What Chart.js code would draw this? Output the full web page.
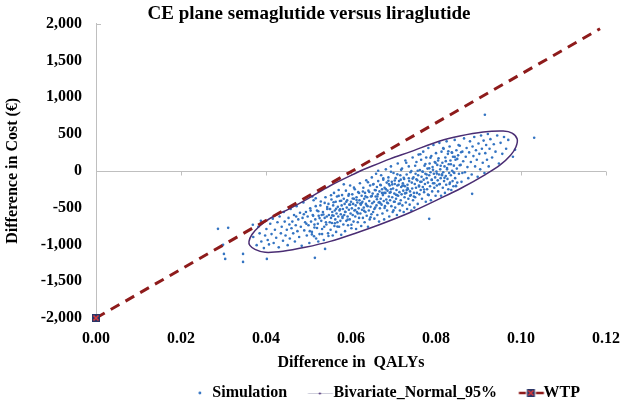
<!DOCTYPE html>
<html>
<head>
<meta charset="utf-8">
<script src="https://cdn.jsdelivr.net/npm/chart.js@4.4.1/dist/chart.umd.min.js"></script>
<style>
  body { margin: 0; background: #fff; }
  canvas { display: block; }
</style>
</head>
<body>
<canvas id="cePlane" width="624" height="404"></canvas>
<script>
const qalyTicks = [0, 0.02, 0.04, 0.06, 0.08, 0.10, 0.12];
const costTicks = [-2000, -1500, -1000, -500, 0, 500, 1000, 1500, 2000];
const seriesNames = ['Simulation', 'Bivariate_Normal_95%', 'WTP'];

// simulated (QALY, cost) pairs, read off the cloud
const simulation = [
  // stragglers left / below the ellipse
  [0.0287,-789],[0.0311,-775],[0.0299,-1006],[0.0301,-1129],[0.0304,-1197],[0.0346,-1129],[0.0346,-1238],
  [0.0402,-1197],[0.0369,-734],[0.0388,-680],[0.0515,-1183],[0.0539,-1061],[0.0784,-653],[0.0885,-313],
  [0.0915,762],[0.1031,449],[0.0981,190],[0.0986,286],
  // left tail
  [0.0370,-900],[0.0378,-1010],[0.0382,-760],[0.0385,-850],[0.0389,-960],[0.0392,-700],[0.0395,-1050],
  [0.0398,-880],[0.0401,-790],[0.0404,-940],[0.0407,-1000],[0.0410,-720],[0.0413,-860],[0.0416,-650],
  [0.0418,-980],[0.0421,-800],[0.0424,-910],[0.0427,-700],[0.0430,-1040],[0.0432,-620],[0.0435,-850],
  [0.0437,-760],[0.0440,-950],[0.0442,-560],[0.0444,-690],[0.0446,-880],[0.0449,-800],[0.0451,-1010],
  [0.0453,-640],[0.0455,-730],
  // 0.045 - 0.055
  [0.0456,-920],[0.0458,-520],[0.0460,-780],[0.0462,-690],[0.0464,-850],[0.0466,-600],[0.0468,-960],
  [0.0470,-740],[0.0472,-480],[0.0474,-820],[0.0476,-660],[0.0478,-900],[0.0480,-570],[0.0482,-760],
  [0.0484,-1020],[0.0486,-640],[0.0488,-430],[0.0490,-810],[0.0492,-700],[0.0494,-560],[0.0496,-880],
  [0.0498,-620],[0.0500,-740],[0.0502,-980],[0.0504,-510],[0.0506,-690],[0.0508,-830],[0.0510,-600],
  [0.0512,-400],[0.0514,-770],[0.0516,-660],[0.0518,-920],[0.0520,-540],[0.0522,-720],[0.0524,-610],
  [0.0526,-860],[0.0528,-470],[0.0530,-680],[0.0532,-790],[0.0534,-560],[0.0536,-940],[0.0538,-640],
  [0.0540,-360],[0.0542,-730],[0.0544,-520],[0.0546,-850],[0.0548,-600],[0.0550,-700],
  [0.0471,-620],[0.0489,-590],[0.0503,-820],[0.0517,-480],[0.0531,-600],[0.0547,-450],[0.0523,-960],
  [0.0509,-350],[0.0495,-720],[0.0537,-760],[0.0513,-890],[0.0543,-620],
  // 0.055 - 0.065
  [0.0551,-520],[0.0552,-800],[0.0553,-640],[0.0554,-390],[0.0555,-710],[0.0556,-560],[0.0557,-880],
  [0.0558,-470],[0.0559,-610],[0.0560,-300],[0.0561,-750],[0.0562,-540],[0.0563,-660],[0.0564,-420],
  [0.0565,-830],[0.0566,-580],[0.0567,-350],[0.0568,-700],[0.0569,-490],[0.0570,-620],[0.0571,-260],
  [0.0572,-760],[0.0573,-540],[0.0574,-410],[0.0575,-680],[0.0576,-590],[0.0577,-870],[0.0578,-470],
  [0.0579,-330],[0.0580,-640],[0.0581,-520],[0.0582,-730],[0.0583,-380],[0.0584,-600],[0.0585,-450],
  [0.0586,-820],[0.0587,-560],[0.0588,-270],[0.0589,-680],[0.0590,-500],[0.0591,-400],[0.0592,-620],
  [0.0593,-740],[0.0594,-340],[0.0595,-530],[0.0596,-460],[0.0597,-660],[0.0598,-200],[0.0599,-580],
  [0.0600,-420],[0.0601,-780],[0.0602,-510],[0.0603,-320],[0.0604,-600],[0.0605,-450],[0.0606,-690],
  [0.0607,-380],[0.0608,-540],[0.0609,-250],[0.0610,-620],[0.0611,-470],[0.0612,-790],[0.0613,-360],
  [0.0614,-560],[0.0615,-430],[0.0616,-700],[0.0617,-290],[0.0618,-510],[0.0619,-640],[0.0620,-400],
  [0.0621,-170],[0.0622,-580],[0.0623,-460],[0.0624,-750],[0.0625,-340],[0.0626,-530],[0.0627,-420],
  [0.0628,-640],[0.0629,-230],[0.0630,-500],[0.0631,-380],[0.0632,-700],[0.0633,-300],[0.0634,-560],
  [0.0635,-450],[0.0636,-130],[0.0637,-610],[0.0638,-360],[0.0639,-480],[0.0640,-760],[0.0641,-270],
  [0.0642,-540],[0.0643,-410],[0.0644,-660],[0.0645,-200],[0.0646,-490],[0.0647,-350],[0.0648,-590],
  [0.0649,-90],[0.0650,-440],
  // 0.065 - 0.075
  [0.0651,-310],[0.0652,-560],[0.0653,-180],[0.0654,-420],[0.0655,-650],[0.0656,-260],[0.0657,-500],
  [0.0658,-350],[0.0659,-40],[0.0660,-470],[0.0661,-220],[0.0662,-600],[0.0663,-320],[0.0664,-140],
  [0.0665,-430],[0.0666,-690],[0.0667,-280],[0.0668,-510],[0.0669,-190],[0.0670,-380],[0.0671,-60],
  [0.0672,-460],[0.0673,-250],[0.0674,-580],[0.0675,-330],[0.0676,-120],[0.0677,-410],[0.0678,-660],
  [0.0679,-230],[0.0680,-480],[0.0681,-300],[0.0682,20],[0.0683,-390],[0.0684,-160],[0.0685,-540],
  [0.0686,-270],[0.0687,-440],[0.0688,-90],[0.0689,-350],[0.0690,-620],[0.0691,-200],[0.0692,-400],
  [0.0693,-290],[0.0694,60],[0.0695,-480],[0.0696,-150],[0.0697,-360],[0.0698,-560],[0.0699,-240],
  [0.0700,-30],[0.0701,-420],[0.0702,-310],[0.0703,-180],[0.0704,-500],[0.0705,-100],[0.0706,-380],
  [0.0707,-260],[0.0708,-600],[0.0709,-200],[0.0710,100],[0.0711,-340],[0.0712,-450],[0.0713,-140],
  [0.0714,-290],[0.0715,-540],[0.0716,-60],[0.0717,-400],[0.0718,-220],[0.0719,-320],[0.0720,30],
  [0.0721,-470],[0.0722,-170],[0.0723,-270],[0.0724,-560],[0.0725,-110],[0.0726,-360],[0.0727,-210],
  [0.0728,140],[0.0729,-430],[0.0730,-300],[0.0731,-50],[0.0732,-520],[0.0733,-190],[0.0734,-250],
  [0.0735,-380],[0.0736,60],[0.0737,-140],[0.0738,-460],[0.0739,-280],[0.0740,-20],[0.0741,-330],
  [0.0742,-540],[0.0743,-160],[0.0744,-240],[0.0745,180],[0.0746,-400],[0.0747,-90],[0.0748,-300],
  [0.0749,-500],[0.0750,-180],
  [0.0662,-350],[0.0678,-300],[0.0694,-250],[0.0708,-330],[0.0724,-200],[0.0689,-180],[0.0703,-420],
  [0.0717,-120],[0.0731,-260],[0.0669,-440],
  // 0.075 - 0.085
  [0.0751,-360],[0.0752,-40],[0.0753,-230],[0.0754,120],[0.0755,-300],[0.0756,-130],[0.0757,-450],
  [0.0758,-60],[0.0759,220],[0.0760,-200],[0.0761,-320],[0.0762,10],[0.0763,-150],[0.0764,-260],
  [0.0765,150],[0.0766,-80],[0.0767,-380],[0.0768,-10],[0.0769,-220],[0.0770,260],[0.0771,-120],
  [0.0772,-290],[0.0773,70],[0.0774,-180],[0.0775,-40],[0.0776,-420],[0.0777,180],[0.0778,-100],
  [0.0779,-250],[0.0780,30],[0.0781,-160],[0.0782,310],[0.0783,-330],[0.0784,-60],[0.0785,100],
  [0.0786,-210],[0.0787,-20],[0.0788,-400],[0.0789,200],[0.0790,-120],[0.0791,-280],[0.0792,50],
  [0.0793,-170],[0.0794,350],[0.0795,-40],[0.0796,-230],[0.0797,120],[0.0798,-90],[0.0799,-340],
  [0.0800,240],[0.0801,-10],[0.0802,-200],[0.0803,80],[0.0804,-130],[0.0805,-280],[0.0806,170],
  [0.0807,-50],[0.0808,380],[0.0809,-180],[0.0810,20],[0.0811,-100],[0.0812,-340],[0.0813,260],
  [0.0814,-60],[0.0815,110],[0.0816,-230],[0.0817,-20],[0.0818,300],[0.0819,-140],[0.0820,60],
  [0.0821,-300],[0.0822,180],[0.0823,-70],[0.0824,-190],[0.0825,400],[0.0826,20],[0.0827,-110],
  [0.0828,230],[0.0829,-250],[0.0830,90],[0.0831,-30],[0.0832,330],[0.0833,-160],[0.0834,140],
  [0.0835,-60],[0.0836,-260],[0.0837,250],[0.0838,0],[0.0839,-140],[0.0840,190],[0.0841,-210],
  [0.0842,70],[0.0843,-30],[0.0844,420],[0.0845,-100],[0.0846,150],[0.0847,-210],[0.0848,280],
  [0.0849,30],[0.0850,-160],
  // right tail
  [0.0852,210],[0.0854,-40],[0.0856,340],[0.0858,80],[0.0860,-150],[0.0862,260],[0.0864,130],
  [0.0866,440],[0.0868,-20],[0.0870,190],[0.0872,310],[0.0874,50],[0.0876,-100],[0.0878,250],
  [0.0880,400],[0.0882,120],[0.0884,-50],[0.0886,330],[0.0888,200],[0.0890,460],[0.0892,60],
  [0.0894,280],[0.0896,150],[0.0898,-80],[0.0900,370],[0.0902,230],[0.0904,20],[0.0906,480],
  [0.0908,300],[0.0910,110],[0.0912,410],[0.0914,-30],[0.0916,240],[0.0918,350],[0.0920,150],
  [0.0922,500],[0.0924,60],[0.0926,300],[0.0928,430],[0.0932,180],[0.0936,360],[0.0940,260],
  [0.0944,480],[0.0948,100],[0.0952,380],[0.0956,230],[0.0960,460],[0.0965,300],[0.0970,420],
  // denser core of the cloud
  [0.0505,-541],[0.0508,-864],[0.0511,-612],[0.0514,-731],[0.0517,-374],[0.0520,-777],[0.0523,-550],
  [0.0526,-643],[0.0529,-417],[0.0532,-860],[0.0535,-593],[0.0538,-436],[0.0541,-699],[0.0544,-492],
  [0.0547,-886],[0.0550,-519],[0.0553,-332],[0.0556,-605],[0.0559,-428],[0.0562,-712],[0.0565,-515],
  [0.0568,-758],[0.0571,-341],[0.0574,-524],[0.0577,-407],[0.0580,-621],[0.0583,-184],[0.0586,-557],
  [0.0589,-420],[0.0592,-664],[0.0595,-317],[0.0598,-460],[0.0601,-733],[0.0604,-376],[0.0607,-229],
  [0.0610,-533],[0.0613,-396],[0.0616,-579],[0.0619,-302],[0.0622,-445],
  [0.0625,-439],[0.0628,-282],[0.0631,-545],[0.0634,-348],[0.0637,-471],[0.0640,-155],[0.0643,-288],
  [0.0646,-631],[0.0649,-344],[0.0652,-187],[0.0655,-520],[0.0658,-264],[0.0661,-387],[0.0664,0],
  [0.0667,-423],[0.0670,-196],[0.0673,-300],[0.0676,-103],[0.0679,-506],[0.0682,-249],[0.0685,-432],
  [0.0688,-135],[0.0691,-299],[0.0694,-12],[0.0697,-185],[0.0700,-538],[0.0703,-131],[0.0706,-325],
  [0.0709,-48],[0.0712,-191],[0.0715,-444],[0.0718,13],[0.0721,-201],[0.0724,-94],[0.0727,-307],
  [0.0730,110],[0.0733,-233],[0.0736,-101],[0.0739,-340],[0.0742,-3],
  [0.0745,-106],[0.0748,-349],[0.0751,68],[0.0754,-116],[0.0757,1],[0.0760,-212],[0.0763,225],
  [0.0766,-148],[0.0769,-12],[0.0772,-255],[0.0775,92],[0.0778,-51],[0.0781,-324],[0.0784,33],
  [0.0787,179],[0.0790,-124],[0.0793,13],[0.0796,-170],[0.0799,107],[0.0802,-36],[0.0805,140],
  [0.0808,-183],[0.0811,69],[0.0814,-49],[0.0817,308],[0.0820,-96],[0.0823,131],[0.0826,38],
  [0.0829,265],[0.0832,-178],[0.0835,88],[0.0838,245],[0.0841,-18],[0.0844,189],[0.0847,-204],
  [0.0850,162],[0.0853,349],[0.0856,76],[0.0859,253],[0.0862,-30]
];

// 95% ellipse outline, traced round from the top edge
const ellipse95 = [
  [0.0628,14],[0.0692,162],[0.0739,257],[0.0809,405],[0.0856,473],[0.0911,527],[0.0958,540],
  [0.0979,513],[0.0991,432],[0.0988,324],[0.0976,216],[0.0951,81],[0.0915,-54],[0.0861,-230],
  [0.0809,-378],[0.0739,-567],[0.0668,-730],[0.0609,-851],[0.0551,-959],[0.0492,-1040],[0.0440,-1094],
  [0.0398,-1108],[0.0374,-1067],[0.0362,-1013],[0.0360,-959],[0.0367,-865],[0.0384,-756],[0.0409,-648],
  [0.0456,-513],[0.0499,-378],[0.0551,-203],[0.0628,14]
];

// willingness-to-pay line
const wtpLine = [[0, -2000], [0.1186, 1930]];

const toXY = pts => pts.map(p => ({ x: p[0], y: p[1] }));

const blue = '#3474c2';
const purple = '#4a2d73';
const darkRed = '#8e1b1b';
const axisGrey = '#bfbfbf';
const boldFont = { family: "'Liberation Serif', 'Times New Roman', serif", size: 16, weight: 'bold' };

function makeIcon(w, h, draw) {
  const c = document.createElement('canvas');
  c.width = w;
  c.height = h;
  draw(c.getContext('2d'));
  return c;
}

function drawCrossBox(ctx, cx, cy) {
  ctx.fillStyle = '#2b3566';
  ctx.fillRect(cx - 4, cy - 4, 8, 8);
  ctx.strokeStyle = '#d8393b';
  ctx.lineWidth = 1.6;
  ctx.beginPath();
  ctx.moveTo(cx - 2.5, cy - 2.5); ctx.lineTo(cx + 2.5, cy + 2.5);
  ctx.moveTo(cx + 2.5, cy - 2.5); ctx.lineTo(cx - 2.5, cy + 2.5);
  ctx.stroke();
}

const wtpMarker = makeIcon(10, 10, ctx => drawCrossBox(ctx, 5, 5));

// legend icons (40px wide, drawn round the narrow legend box)
const legendIcons = [
  makeIcon(40, 14, ctx => {
    ctx.fillStyle = blue;
    ctx.beginPath(); ctx.arc(21.8, 7, 1.4, 0, Math.PI * 2); ctx.fill();
  }),
  makeIcon(40, 14, ctx => {
    ctx.strokeStyle = '#cfcfdc'; ctx.lineWidth = 1;
    ctx.beginPath(); ctx.moveTo(8.6, 7.5); ctx.lineTo(33.6, 7.5); ctx.stroke();
    ctx.fillStyle = purple;
    ctx.beginPath(); ctx.arc(20.6, 7.5, 1.1, 0, Math.PI * 2); ctx.fill();
  }),
  makeIcon(40, 14, ctx => {
    ctx.strokeStyle = darkRed; ctx.lineWidth = 2.5;
    ctx.beginPath(); ctx.moveTo(9.6, 7); ctx.lineTo(16.6, 7); ctx.moveTo(26.6, 7); ctx.lineTo(34.6, 7); ctx.stroke();
    drawCrossBox(ctx, 21.6, 7);
  })
];

// Excel-style horizontal axis crossing at cost = 0
const axisCross = {
  id: 'axisCross',
  afterLayout(chart) {
    // the original title sits a little right of the canvas centre
    if (chart.titleBlock) {
      chart.titleBlock.left += 6;
      chart.titleBlock.right += 6;
    }
  },
  beforeDatasetsDraw(chart) {
    const { ctx, chartArea, scales: { x, y } } = chart;
    const y0 = Math.round(y.getPixelForValue(0)) + 0.5;
    ctx.save();
    ctx.strokeStyle = axisGrey;
    ctx.lineWidth = 1;
    ctx.beginPath();
    ctx.moveTo(chartArea.left, y0);
    ctx.lineTo(chartArea.right, y0);
    qalyTicks.slice(1).forEach(v => {
      const px = Math.round(x.getPixelForValue(v)) + 0.5;
      ctx.moveTo(px, y0);
      ctx.lineTo(px, y0 + 4);
    });
    const top = Math.round(y.getPixelForValue(costTicks[costTicks.length - 1])) + 0.5;
    ctx.moveTo(chartArea.left, top);
    ctx.lineTo(chartArea.left + 5, top);
    ctx.stroke();
    ctx.restore();
  }
};

new Chart(document.getElementById('cePlane'), {
  type: 'scatter',
  data: {
    datasets: [
      {
        label: seriesNames[0],
        data: toXY(simulation),
        pointRadius: 1.3,
        pointHoverRadius: 1.3,
        pointBackgroundColor: blue,
        pointBorderWidth: 0,
        order: 3
      },
      {
        label: seriesNames[1],
        data: toXY(ellipse95),
        showLine: true,
        borderColor: purple,
        borderWidth: 1.5,
        tension: 0.35,
        pointRadius: 0,
        order: 2
      },
      {
        label: seriesNames[2],
        data: toXY(wtpLine),
        showLine: true,
        borderColor: darkRed,
        borderWidth: 3,
        borderDash: [10, 7],
        pointRadius: [5, 0],
        pointStyle: wtpMarker,
        clip: false,
        order: 1
      }
    ]
  },
  options: {
    responsive: false,
    animation: false,
    events: [],
    layout: { padding: { left: 0, right: 18, top: 0, bottom: -7 } },
    plugins: {
      title: {
        display: true,
        text: 'CE plane semaglutide versus liraglutide',
        color: '#000',
        font: { family: boldFont.family, size: 19, weight: 'bold', lineHeight: 1 },
        padding: { top: 2, bottom: 0 }
      },
      legend: {
        position: 'bottom',
        align: 'end',
        labels: {
          usePointStyle: true,
          pointStyleWidth: 12.5,
          boxHeight: 10,
          padding: 26,
          color: '#000',
          font: boldFont,
          generateLabels: chart => chart.data.datasets.map((ds, i) => ({
            text: ds.label,
            pointStyle: legendIcons[i],
            fillStyle: 'transparent',
            strokeStyle: 'transparent',
            lineWidth: 0,
            hidden: false,
            datasetIndex: i
          }))
        }
      },
      tooltip: { enabled: false }
    },
    scales: {
      x: {
        type: 'linear',
        min: qalyTicks[0],
        max: qalyTicks[qalyTicks.length - 1],
        afterBuildTicks: s => { s.ticks = qalyTicks.map(v => ({ value: v })); },
        afterFit: s => { s.height = 41; s.paddingLeft = 0; s.paddingRight = 0; },
        ticks: { padding: 11, color: '#000', font: boldFont, maxRotation: 0, callback: v => v.toFixed(2) },
        grid: { display: false, drawTicks: false },
        border: { display: false },
        title: { display: true, text: 'Difference in  QALYs', color: '#000', font: boldFont, padding: { top: 0, bottom: -13.6 } }
      },
      y: {
        type: 'linear',
        min: costTicks[0],
        max: costTicks[costTicks.length - 1],
        afterBuildTicks: s => { s.ticks = costTicks.map(v => ({ value: v })); },
        afterFit: s => { s.width = 96; },
        ticks: { padding: 14, color: '#000', font: boldFont, callback: v => v.toLocaleString('en-US') },
        grid: { display: false, drawTicks: false },
        border: { display: true, color: axisGrey, width: 1 },
        title: { display: true, text: 'Difference in Cost (€)', color: '#000', font: boldFont, padding: { top: 3, bottom: 4 } }
      }
    }
  },
  plugins: [axisCross]
});
</script>
</body>
</html>
